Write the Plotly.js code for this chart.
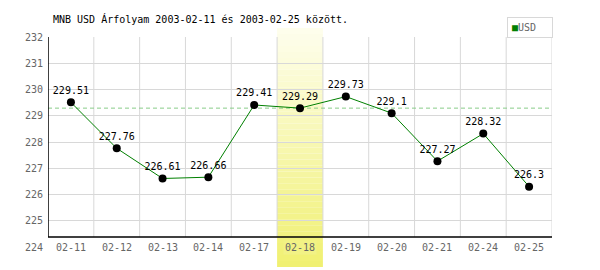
<!DOCTYPE html>
<html><head><meta charset="utf-8">
<script src="https://cdn.plot.ly/plotly-3.0.1.min.js"></script>
<style>html,body{margin:0;padding:0;background:#fff}#chart{width:600px;height:270px}</style>
</head><body><div id="chart"></div>
<script>
const dates = ['02-11','02-12','02-13','02-14','02-17','02-18','02-19','02-20','02-21','02-24','02-25'];
const usd = [229.51, 227.76, 226.61, 226.66, 229.41, 229.29, 229.73, 229.1, 227.27, 228.32, 226.3];
const yTicks = [224, 225, 226, 227, 228, 229, 230, 231, 232];
const highlightIndex = 5;
const titleText = 'MNB USD Árfolyam 2003-02-11 és 2003-02-25 között.';
const seriesName = 'USD';

const FONT = 'DejaVu Sans Mono, monospace';
const idx = dates.map((d, i) => i);
const n = dates.length;
const yMin = yTicks[0], yMax = yTicks[yTicks.length - 1];
const axisY = yMin + 10 / (210 / (yMax - yMin));

const shapes = [];
const strips = 40, pTop = 1 + 9 / 210, pBot = -20 / 210;
function lerp(a, b, t) { return Math.round(a + (b - a) * t); }
function bandColor(t) { return `rgb(${lerp(254,240,t)},${lerp(254,240,t)},${lerp(238,112,t)})`; }
for (let s = 0; s < strips; s++) {
  const t = (s + 0.5) / strips;
  shapes.push({type:'rect', layer:'below', xref:'x', yref:'paper',
    x0: highlightIndex - 0.5, x1: highlightIndex + 0.5,
    y0: pTop - (pTop - pBot) * s / strips, y1: pTop - (pTop - pBot) * (s + 1) / strips,
    line:{width:0}, fillcolor: bandColor(t)});
}
for (let k = 1; k <= n; k++) {
  shapes.push({type:'line', layer:'below', xref:'x', yref:'y', x0:k-0.5, x1:k-0.5, y0:axisY, y1:yMax,
    line:{color:'#d8d8d8', width:1}});
}
shapes.push({type:'line', layer:'below', xref:'x', yref:'y', x0:-0.5, x1:n-0.5,
  y0:usd[highlightIndex], y1:usd[highlightIndex], line:{color:'#88cc88', width:1, dash:'4px,3px'}});
shapes.push({type:'line', xref:'x', yref:'y', x0:-0.5, x1:n-0.5, y0:axisY, y1:axisY, line:{color:'#000', width:1.5}});
shapes.push({type:'line', xref:'x', yref:'y', x0:-0.5, x1:-0.5, y0:axisY, y1:yMax, line:{color:'#000', width:1.5}});

const annotations = dates.map((d, i) => ({
  x: i, y: yMin, xref:'x', yref:'y', text: d, showarrow:false,
  xanchor:'center', yanchor:'middle',
  font:{family:FONT, size:10, color:'#666'},
  bgcolor: i === highlightIndex ? bandColor(0.83) : '#fff', borderpad:1
}));
annotations.push({
  xref:'paper', yref:'paper', x:(553-48)/504, y:1+(37-17)/210, xanchor:'right', yanchor:'top',
  text:'<span style="color:#008000">■</span>' + seriesName + '  ', showarrow:false,
  font:{family:FONT, size:10, color:'#666'}, bordercolor:'#d8d8d8', borderwidth:1, borderpad:4, bgcolor:'#fff'
});

const trace = {
  x: idx, y: usd, type:'scatter', mode:'lines+markers+text', name: seriesName,
  text: usd.map(v => String(v)), textposition:'top center',
  textfont:{family:FONT, size:10, color:'#000'},
  line:{color:'#008000', width:1},
  marker:{color:'#000', size:8},
  cliponaxis:false, showlegend:false
};

const layout = {
  width:600, height:270,
  margin:{l:48, r:48, t:37, b:23},
  paper_bgcolor:'#fff', plot_bgcolor:'rgba(0,0,0,0)',
  title:{text:titleText, xref:'container', yref:'container', x:53/600, xanchor:'left',
    y:1-19/270, yanchor:'middle', font:{family:FONT, size:10, color:'#000'}},
  showlegend:false,
  xaxis:{range:[-0.5, n-0.5], showgrid:false, zeroline:false, showline:false,
    showticklabels:false, fixedrange:true},
  yaxis:{range:[yMin, yMax], tickvals:yTicks, ticktext:yTicks.map(String),
    showgrid:true, gridcolor:'#d8d8d8', gridwidth:1, zeroline:false, showline:false,
    ticks:'', ticklabelstandoff:4,
    tickfont:{family:FONT, size:10, color:'#666'}, fixedrange:true},
  shapes: shapes, annotations: annotations
};
Plotly.newPlot('chart', [trace], layout, {displayModeBar:false, staticPlot:true});
</script></body></html>
